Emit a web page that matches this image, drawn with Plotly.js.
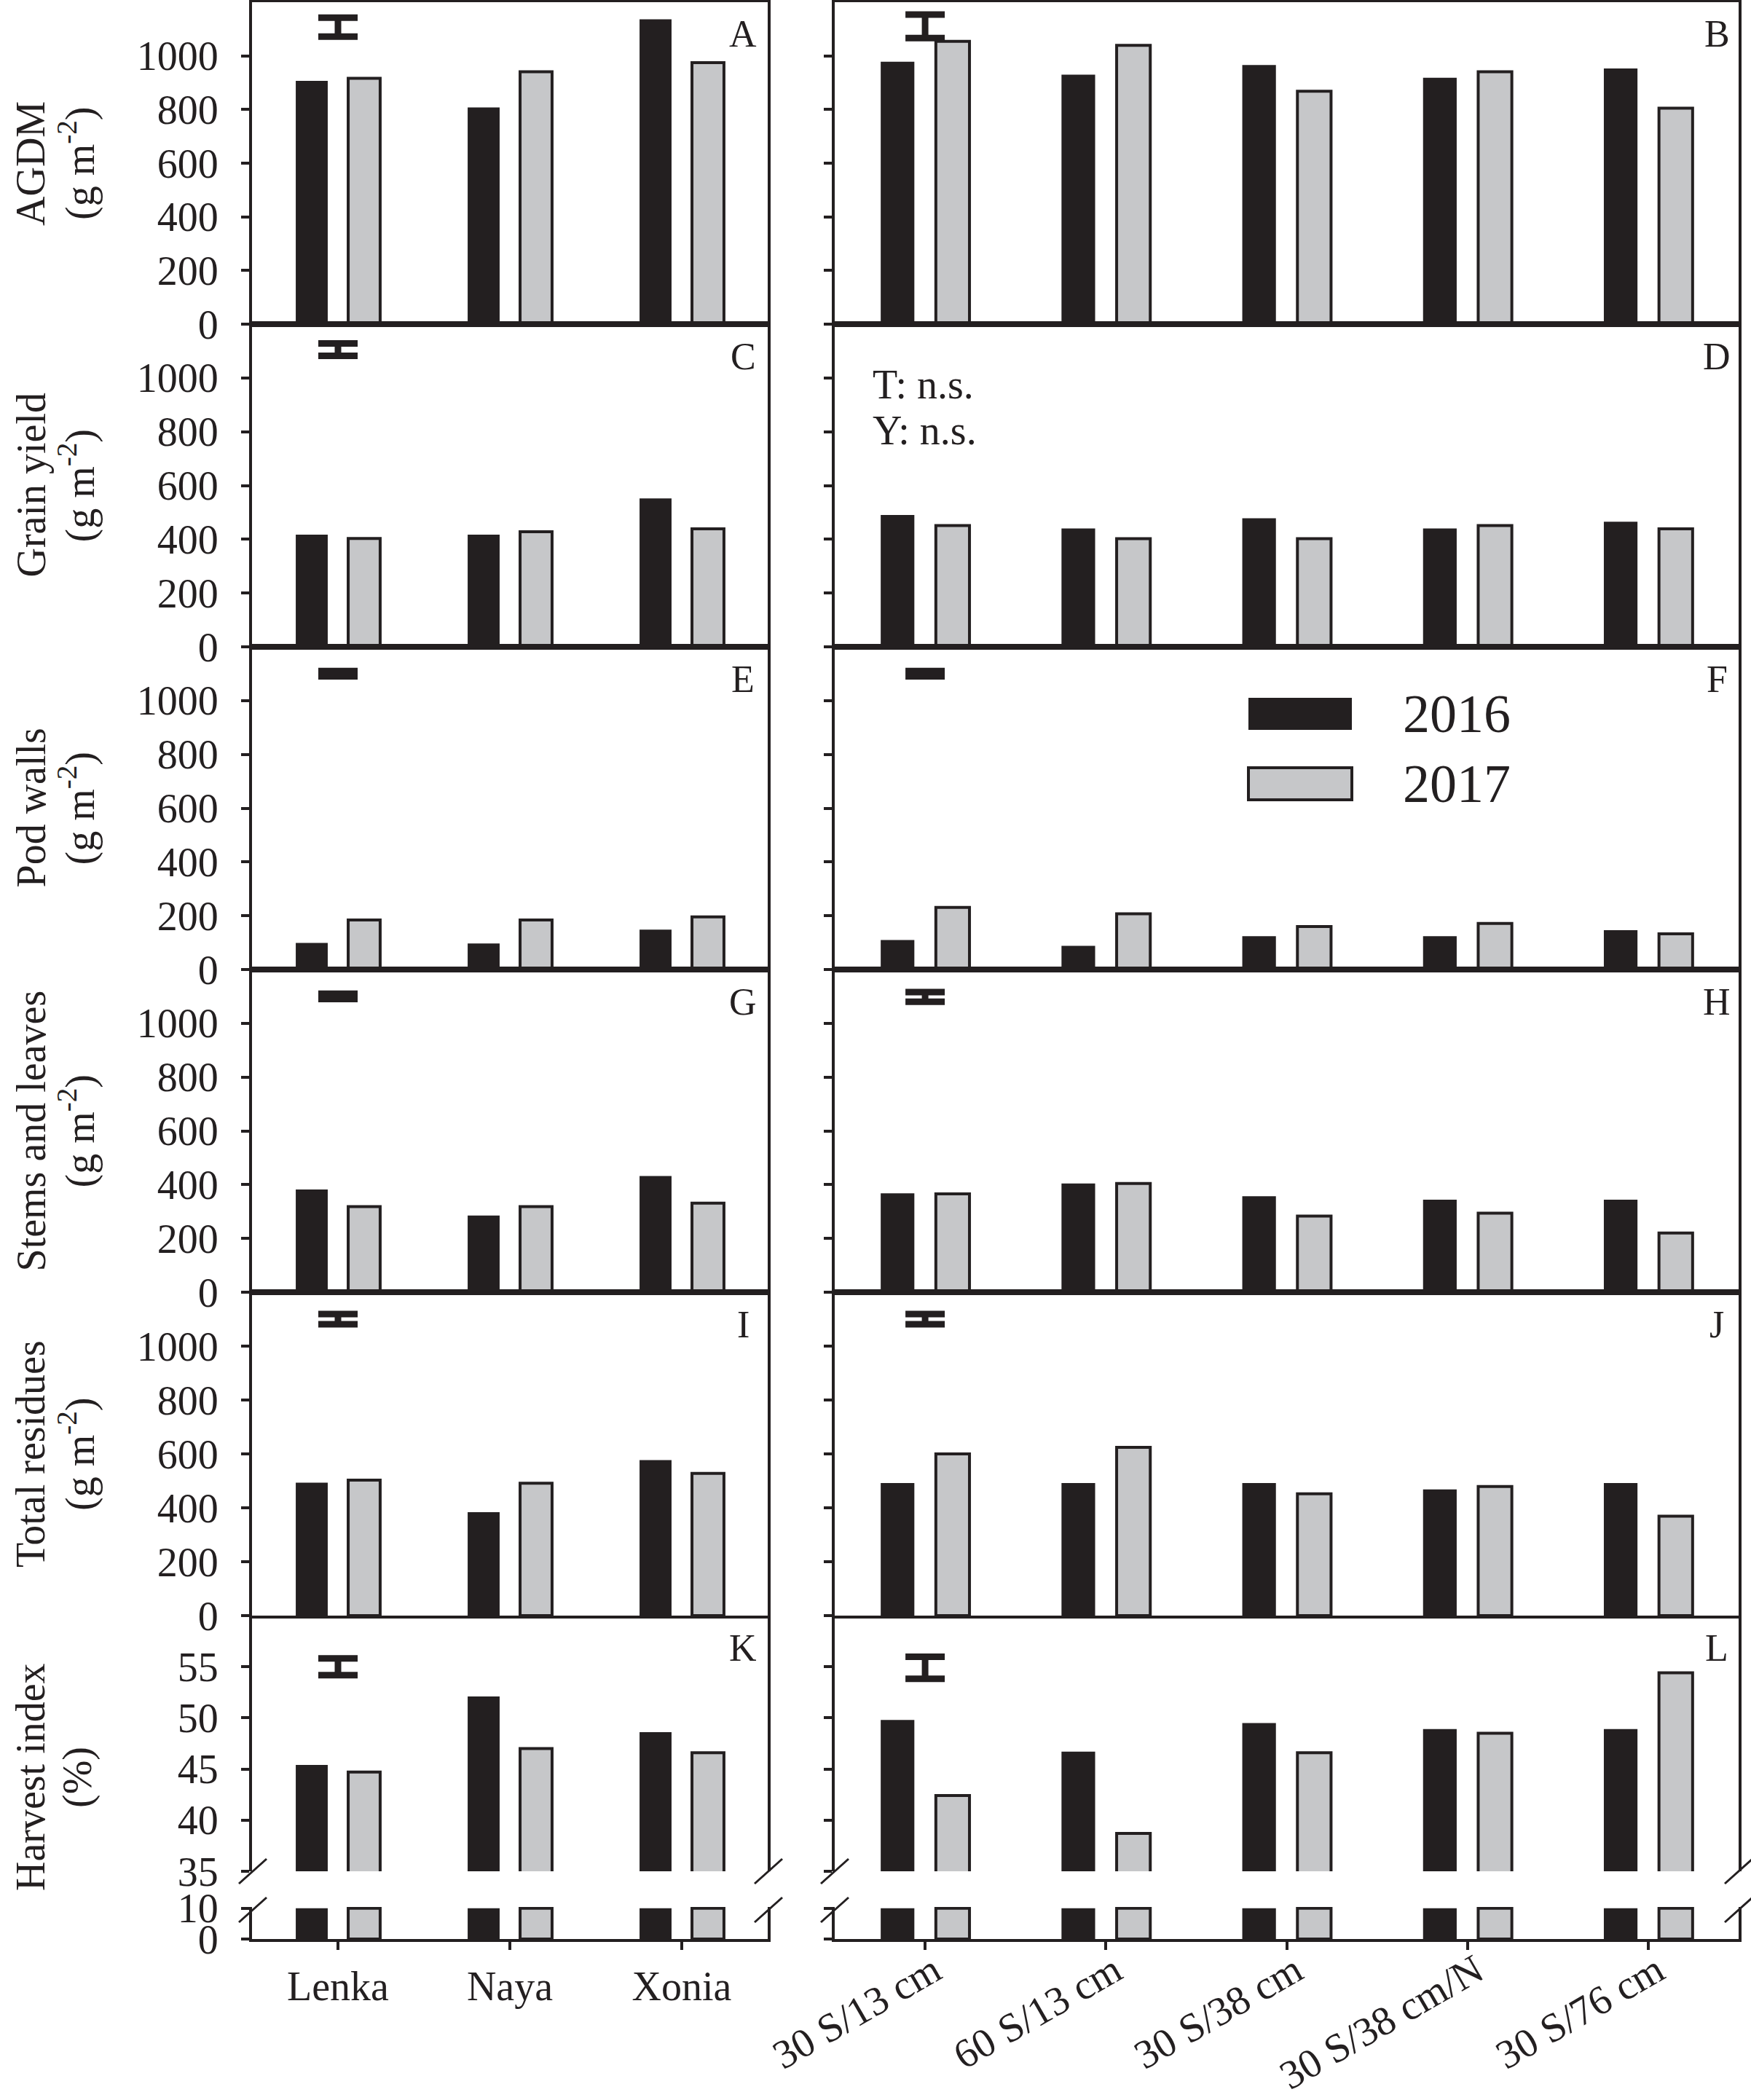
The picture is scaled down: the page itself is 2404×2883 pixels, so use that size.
<!DOCTYPE html>
<html>
<head>
<meta charset="utf-8">
<script src="https://cdn.plot.ly/plotly-3.0.1.min.js"></script>
<style>html,body{margin:0;padding:0;background:#fff;}#chart{width:2404px;height:2883px;}</style>
</head>
<body>
<div id="chart"></div>
<script>
// ---------------- DATA ----------------
const years = ['2016', '2017'];
const cultivars = ['Lenka', 'Naya', 'Xonia'];
const treatments = ['30 S/13 cm', '60 S/13 cm', '30 S/38 cm', '30 S/38 cm/N', '30 S/76 cm'];

const agdmCult2016 = [907, 808, 1136];
const agdmCult2017 = [916, 941, 975];
const grainCult2016 = [417, 417, 552];
const grainCult2017 = [403, 428, 439];
const podCult2016 = [99, 97, 148];
const podCult2017 = [184, 184, 196];
const stemCult2016 = [382, 285, 432];
const stemCult2017 = [318, 318, 331];
const resCult2016 = [493, 384, 577];
const resCult2017 = [503, 491, 528];
const hiCult2016 = [45.4, 52.1, 48.6];
const hiCult2017 = [44.7, 47.0, 46.6];

const agdmTrt2016 = [978, 930, 966, 918, 953];
const agdmTrt2017 = [1054, 1039, 868, 941, 805];
const grainTrt2016 = [490, 440, 478, 440, 465];
const grainTrt2017 = [451, 402, 402, 451, 439];
const podTrt2016 = [110, 88, 124, 124, 146];
const podTrt2017 = [231, 207, 160, 171, 133];
const stemTrt2016 = [368, 404, 357, 344, 344];
const stemTrt2017 = [366, 404, 283, 294, 220];
const resTrt2016 = [492, 492, 492, 468, 492];
const resTrt2017 = [600, 624, 452, 479, 369];
const hiTrt2016 = [49.8, 46.7, 49.5, 48.9, 48.9];
const hiTrt2017 = [42.4, 38.7, 46.6, 48.5, 54.4];

const panelLetters = ['A', 'B', 'C', 'D', 'E', 'F', 'G', 'H', 'I', 'J', 'K', 'L'];
const rowTitles = ['AGDM', 'Grain yield', 'Pod walls', 'Stems and leaves', 'Total residues', 'Harvest index'];
const rowUnits = ['(g m<sup>-2</sup>)', '(g m<sup>-2</sup>)', '(g m<sup>-2</sup>)', '(g m<sup>-2</sup>)', '(g m<sup>-2</sup>)', '(%)'];
// LSD bars (centre and half length) per panel A..L
const lsdCenter = [1107, 1110, 1105, null, 1100, 1100, 1100, 1098, 1100, 1100, 55.0, 54.9];
const lsdHalf = [35, 44, 23, null, 10, 10, 10, 18, 19, 19, 0.82, 1.07];
const noteText = ['T: n.s.', 'Y: n.s.'];

const yTicksMass = [0, 200, 400, 600, 800, 1000];
const yTicksHiUpper = [35, 40, 45, 50, 55];
const yTicksHiLower = [0, 10];

// ---------------- LAYOUT CONSTANTS ----------------
const W = 2404, H = 2883;
const DARK = '#231f20', GREY = '#c6c7c9';
const FONT = 'Liberation Serif, Times New Roman, serif';
const px = x => x / W;
const py = y => 1 - y / H;
const colX = [[346, 1054], [1146, 2387]];
const rowY = [[3, 445], [445, 888], [888, 1331], [1331, 1774], [1774, 2218]];
const hiUpperY = [2218, 2569];
const hiLowerY = [2618, 2662];
const LOWER_TOP = 10;

const panelData = [
  [[agdmCult2016, agdmCult2017], [agdmTrt2016, agdmTrt2017]],
  [[grainCult2016, grainCult2017], [grainTrt2016, grainTrt2017]],
  [[podCult2016, podCult2017], [podTrt2016, podTrt2017]],
  [[stemCult2016, stemCult2017], [stemTrt2016, stemTrt2017]],
  [[resCult2016, resCult2017], [resTrt2016, resTrt2017]],
  [[hiCult2016, hiCult2017], [hiTrt2016, hiTrt2017]]
];
const cats = [cultivars, treatments];

const traces = [];
const layout = {
  width: W, height: H,
  margin: {l: 0, r: 0, t: 0, b: 0},
  paper_bgcolor: '#fff', plot_bgcolor: 'rgba(0,0,0,0)',
  showlegend: false,
  barmode: 'group', bargap: 0.39, bargroupgap: 0.39,
  font: {family: FONT, size: 56, color: DARK},
  annotations: [], shapes: []
};

const tickFont = {family: FONT, size: 56, color: DARK};

function xAxisDef(c, k, opts) {
  return Object.assign({
    domain: [px(colX[c][0]), px(colX[c][1])],
    anchor: 'y' + k,
    type: 'category',
    categoryorder: 'array', categoryarray: cats[c],
    range: [-0.5, cats[c].length - 0.5],
    showline: true, mirror: true, linewidth: 4, linecolor: DARK,
    ticks: '', showticklabels: false, showgrid: false, zeroline: false,
    fixedrange: true
  }, opts || {});
}
function yAxisDef(c, k, yr, range, tickvals, opts) {
  return Object.assign({
    domain: [py(yr[1]), py(yr[0])],
    anchor: 'x' + k,
    range: range,
    tickmode: 'array', tickvals: tickvals, ticktext: tickvals.map(String),
    ticks: 'outside', ticklen: 11, tickwidth: 4, tickcolor: DARK,
    ticklabelstandoff: 20,
    showline: true, mirror: true, linewidth: 4, linecolor: DARK,
    showticklabels: c === 0, tickfont: tickFont,
    showgrid: false, zeroline: false, fixedrange: true
  }, opts || {});
}
function addBars(c, k, series, mapFn) {
  series.forEach((vals, i) => {
    traces.push({
      type: 'bar', name: years[i],
      x: cats[c], y: mapFn ? vals.map(mapFn) : vals,
      xaxis: 'x' + k, yaxis: 'y' + k,
      marker: {color: i === 0 ? DARK : GREY, line: {color: DARK, width: i === 0 ? 0 : 4}},
      hoverinfo: 'skip'
    });
  });
}

for (let r = 0; r < 6; r++) {
  for (let c = 0; c < 2; c++) {
    const k = r * 2 + c + 1;
    const p = r * 2 + c;
    if (r < 5) {
      layout['xaxis' + k] = xAxisDef(c, k);
      layout['yaxis' + k] = yAxisDef(c, k, rowY[r], [0, 1200], yTicksMass);
    } else {
      layout['xaxis' + k] = xAxisDef(c, k, {showline: false});
      layout['yaxis' + k] = yAxisDef(c, k, hiUpperY, [35, 60], yTicksHiUpper);
      const kl = 12 + c + 1;
      layout['xaxis' + kl] = xAxisDef(c, kl, {
        mirror: false, ticks: 'outside', ticklen: 11, tickwidth: 4, tickcolor: DARK,
        showticklabels: true, tickfont: tickFont, tickangle: c === 0 ? 0 : -30,
        ticklabelstandoff: c === 0 ? 2 : -26, ticklabelshift: c === 0 ? 0 : 12
      });
      layout['yaxis' + kl] = yAxisDef(c, kl, hiLowerY, [0, LOWER_TOP + 0.4], yTicksHiLower);
      addBars(c, kl, panelData[r][c], v => Math.min(v, LOWER_TOP));
    }
    addBars(c, k, panelData[r][c]);
    if (lsdCenter[p] !== null) {
      traces.push({
        type: 'scatter', mode: 'markers',
        x: [cats[c][0]], y: [lsdCenter[p]],
        xaxis: 'x' + k, yaxis: 'y' + k,
        marker: {size: 1, color: 'rgba(0,0,0,0)'},
        error_y: {type: 'data', array: [lsdHalf[p]], visible: true, color: DARK, thickness: 9, width: 27},
        hoverinfo: 'skip', cliponaxis: false
      });
    }
    // panel letter
    const top = r < 5 ? rowY[r][0] : hiUpperY[0];
    layout.annotations.push({
      text: panelLetters[p], xref: 'paper', yref: 'paper',
      x: px(colX[c][1] - (c === 0 ? 34 : 30)), y: py(top + 44),
      xanchor: 'center', yanchor: 'middle', showarrow: false,
      font: {family: FONT, size: 52, color: DARK}
    });
  }
  // row title, two lines
  const yTop = r < 5 ? rowY[r][0] : hiUpperY[0];
  const yBot = r < 5 ? rowY[r][1] : hiLowerY[1];
  [rowTitles[r], rowUnits[r]].forEach((t, j) => {
    layout.annotations.push({
      text: t, xref: 'paper', yref: 'paper',
      x: px(j === 0 ? 42 : 106), y: py((yTop + yBot) / 2), xanchor: 'center', yanchor: 'middle',
      textangle: -90, showarrow: false, font: {family: FONT, size: 56, color: DARK}
    });
  });
}

// T / Y notes in panel D
noteText.forEach((t, i) => {
  layout.annotations.push({
    text: t, xref: 'paper', yref: 'paper', x: px(1196), y: py(528 + i * 63),
    xanchor: 'left', yanchor: 'middle', showarrow: false,
    font: {family: FONT, size: 56, color: DARK}
  });
});

// legend drawn in panel F
years.forEach((yr, i) => {
  const yc = 980 + i * 96;
  layout.shapes.push({
    type: 'rect', xref: 'paper', yref: 'paper',
    x0: px(1714), x1: px(1856), y0: py(yc + 22), y1: py(yc - 22),
    fillcolor: i === 0 ? DARK : GREY, line: {color: DARK, width: i === 0 ? 0 : 4}
  });
  layout.annotations.push({
    text: yr, xref: 'paper', yref: 'paper', x: px(1924), y: py(yc),
    xanchor: 'left', yanchor: 'middle', showarrow: false,
    font: {family: FONT, size: 74, color: DARK}
  });
});

// axis break marks
const breakX = [347, 1055, 1146, 2387];
const breakY = [2569, 2622];
breakX.forEach(bx => breakY.forEach(by => {
  layout.shapes.push({
    type: 'line', xref: 'paper', yref: 'paper',
    x0: px(bx - 19), y0: py(by + 17), x1: px(bx + 19), y1: py(by - 17),
    line: {color: DARK, width: 3}
  });
}));

Plotly.newPlot('chart', traces, layout, {staticPlot: true, displayModeBar: false});
</script>
</body>
</html>
